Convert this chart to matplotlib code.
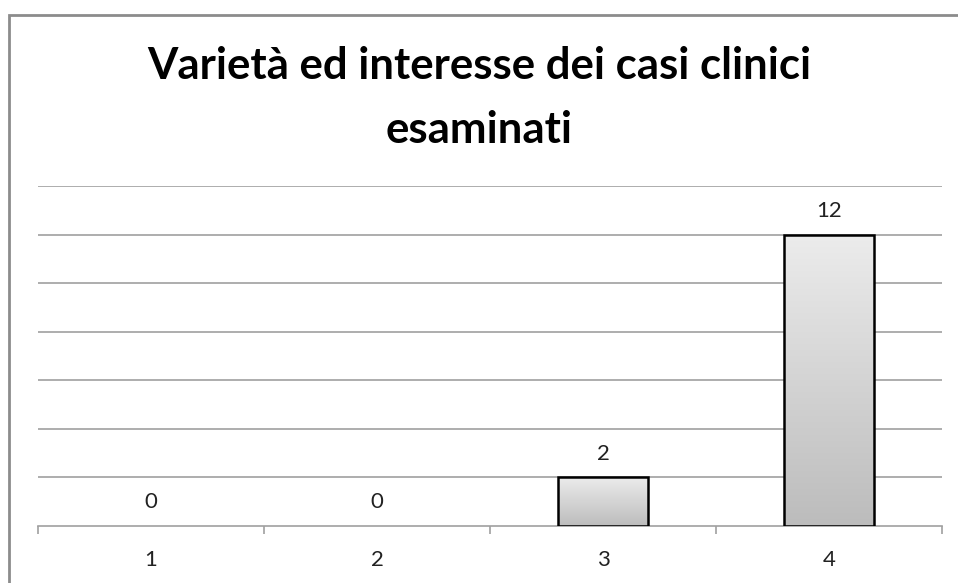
import numpy as np
import matplotlib
matplotlib.use("Agg")
import matplotlib.pyplot as plt
from matplotlib.colors import LinearSegmentedColormap

categories = ["1", "2", "3", "4"]
values = [0, 0, 2, 12]
title = "Varietà ed interesse dei casi clinici\nesaminati"

tfont = ["Lato", "DejaVu Sans"]
bfont = ["Lato", "DejaVu Sans"]

fig = plt.figure(figsize=(9.58, 5.83), dpi=100)
W, H = 958, 583

# outer frame (top and left visible)
frame = plt.Rectangle((9 / W, -0.1), 1.2, (H - 15) / H + 0.1, transform=fig.transFigure,
                      fill=False, edgecolor="#8c8c8c", linewidth=2)
fig.add_artist(frame)

ax = fig.add_axes([38 / W, 57 / H, (942 - 38) / W, (526 - 186) / H])
x = np.arange(len(categories))
bars = ax.bar(x, values, width=0.4, facecolor="none", edgecolor="black", linewidth=1.8, zorder=3)

grad = np.linspace(0, 1, 256).reshape(-1, 1)
cmap = LinearSegmentedColormap.from_list("g", ["#bcbcbc", "#ececec"])
for b in bars:
    if b.get_height() <= 0:
        b.set_edgecolor("none")
        continue
    x0, y0 = b.get_x(), b.get_y()
    im = ax.imshow(grad, extent=(x0, x0 + b.get_width(), y0, y0 + b.get_height()),
                   origin="lower", cmap=cmap, aspect="auto", zorder=2)
    im.set_clip_path(b)

ax.set_xlim(-0.5, len(categories) - 0.5)
ax.set_ylim(0, 14)
ax.set_yticks(np.arange(2, 15, 2))
ax.yaxis.grid(True, color="#a0a0a0", linewidth=1.2)
ax.set_axisbelow(True)
ax.tick_params(axis="y", length=0, labelleft=False)

for s in ["top", "right", "left"]:
    ax.spines[s].set_visible(False)
ax.spines["bottom"].set_color("#a0a0a0")
ax.spines["bottom"].set_linewidth(1.2)

ax.set_xticks(np.arange(len(categories) + 1) - 0.5, minor=True)
ax.tick_params(axis="x", which="minor", length=6, color="#a0a0a0", width=1.2, direction="out")
ax.set_xticks(x)
ax.set_xticklabels(categories, fontsize=16, family=bfont, color="#222222")
ax.tick_params(axis="x", which="major", length=0, pad=17)

ax.bar_label(bars, labels=[str(v) for v in values], padding=10, fontsize=16,
             family=bfont, color="#222222")

fig.text(0.5, (H - 98) / H, title, ha="center", va="center", fontsize=31.5,
         fontweight="bold", family=tfont, linespacing=1.72)

fig.savefig("out.png", dpi=100)
